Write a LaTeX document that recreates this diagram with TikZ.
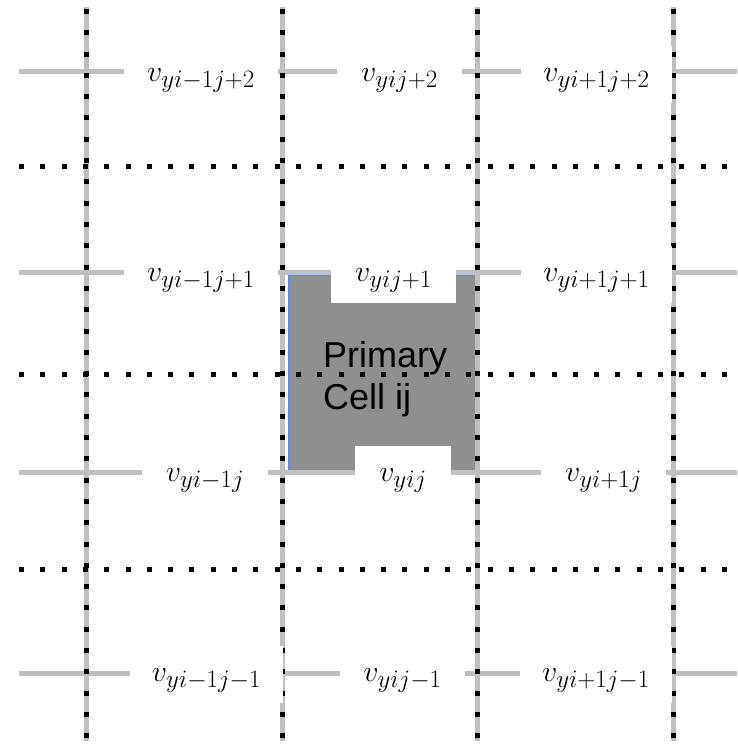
\RequirePackage{fix-cm}
\documentclass[tikz,border=0pt]{standalone}
\usepackage{fontspec}
\newfontfamily\cellfont{Liberation Sans}
\DeclareMathSizes{30}{30}{25}{18}
\usetikzlibrary{positioning}
\definecolor{facegray}{RGB}{191,191,191}
\definecolor{cellgray}{RGB}{143,143,143}
\definecolor{celledge}{RGB}{90,140,240}
\begin{document}
\begin{tikzpicture}[x=1pt,y=-1pt,
  face/.style={facegray,line width=5pt},
  dots/.style={line width=5pt,dash pattern=on 5pt off 16.3pt},
  vlab/.style={fill=white,inner sep=0pt,minimum height=57pt,
    text height=22pt,text depth=8pt,font=\fontsize{30}{36}\selectfont},
  celltxt/.style={font=\cellfont\fontsize{36}{42}\selectfont,align=left,
    inner sep=0pt,anchor=north west}
]
\useasboundingbox (0,0) rectangle (737,746);
% primary cell
\fill[cellgray] (289,275) rectangle (477,471);
\draw[celledge,line width=1.2pt] (289,471) -- (289,275) -- (477,275);
% faces and cell boundaries
\foreach \x in {86,282,477,673}
  \draw[face] (\x,7) -- (\x,741);
\foreach \y in {72,272,472,673}
  \draw[face] (19,\y) -- (737,\y);
\foreach \x in {86,282,477,673}
  \draw[dots] (\x,9) -- (\x,741);
\foreach \y in {167,374,569}
  \draw[dots] (19,\y) -- (728,\y);
% velocity labels
\node[vlab,minimum width=154pt] (vw2) at (201,74.5) {$v_{yi-1j+2}$};
\node[vlab,minimum width=125pt] (vc2) at (399.5,74.5) {$v_{yij+2}$};
\node[vlab,minimum width=151pt] (ve2) at (596.5,74.5) {$v_{yi+1j+2}$};
\node[vlab,minimum width=154pt] (vw1) at (201,274.5) {$v_{yi-1j+1}$};
\node[vlab,minimum width=125pt] (vc1) at (393.5,274.5) {$v_{yij+1}$};
\node[vlab,minimum width=151pt] (ve1) at (596.5,274.5) {$v_{yi+1j+1}$};
\node[vlab,minimum width=126pt] (vw0) at (205,474.5) {$v_{yi-1j}$};
\node[vlab,minimum width=96pt] (vc0) at (403,474.5) {$v_{yij}$};
\node[vlab,minimum width=125pt] (ve0) at (603.5,474.5) {$v_{yi+1j}$};
\node[vlab,minimum width=153pt] (vwm) at (206.5,674.5) {$v_{yi-1j-1}$};
\node[vlab,minimum width=125pt] (vcm) at (402.5,674.5) {$v_{yij-1}$};
\node[vlab,minimum width=152pt] (vem) at (596,674.5) {$v_{yi+1j-1}$};
% cell name
\node[celltxt] (cell) at (323,341) {Primary\\Cell ij};
\end{tikzpicture}
\end{document}
